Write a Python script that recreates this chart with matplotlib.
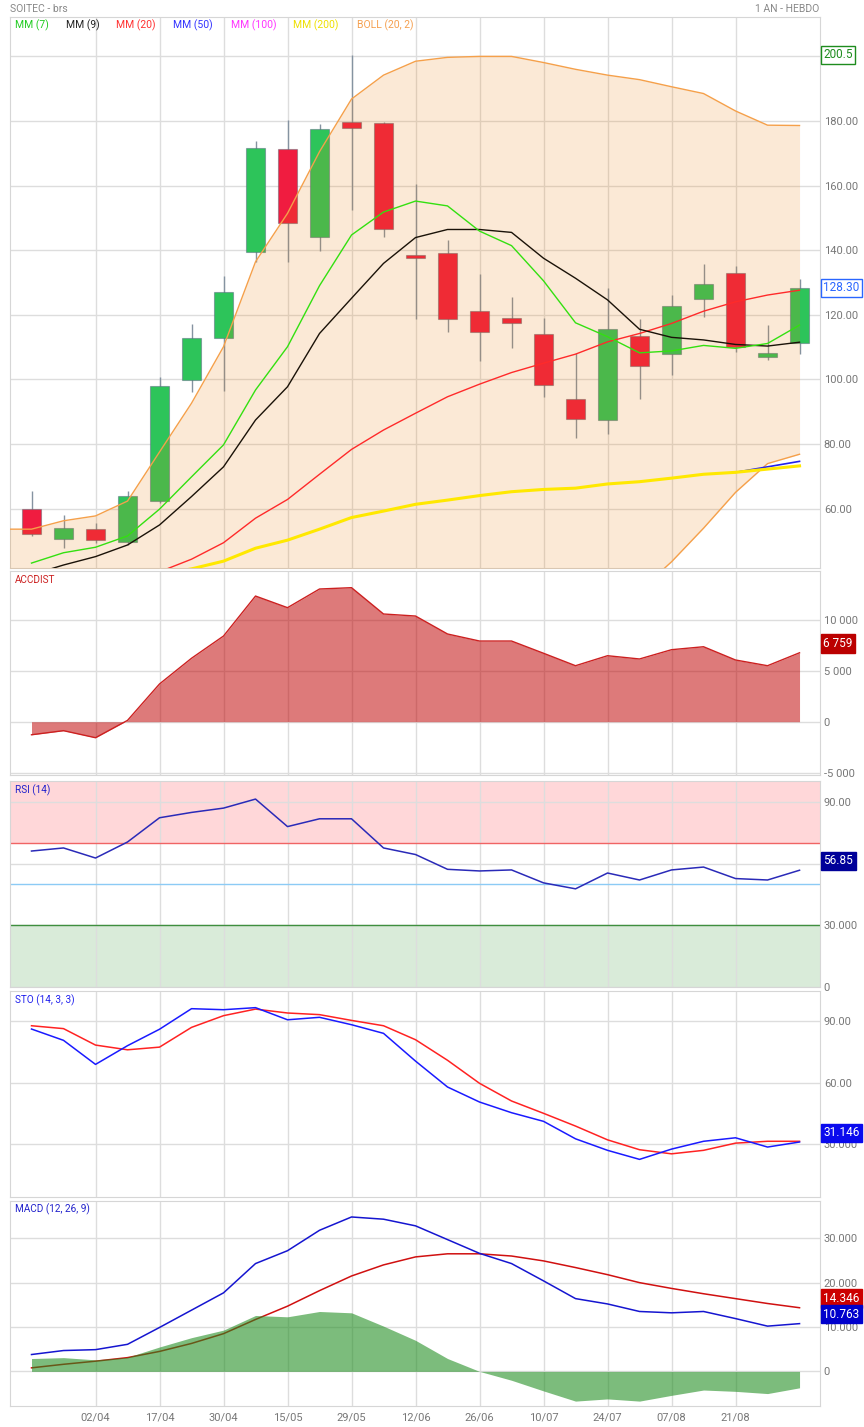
import numpy as np
import matplotlib
matplotlib.use('Agg')
import matplotlib.pyplot as plt

plt.rcParams['font.family'] = ['Roboto', 'DejaVu Sans']

W, H = 864, 1427

# ---------------- data ----------------
x_labels = ['02/04', '17/04', '30/04', '15/05', '29/05', '12/06', '26/06',
            '10/07', '24/07', '07/08', '21/08']
x_label_pos = list(range(2, 23, 2))

opens  = [60.0, 50.5, 53.6, 49.7, 62.2, 99.7, 112.9, 139.5, 171.2, 144.1, 179.6, 179.3, 138.4,
          139.0, 121.1, 118.9, 113.9, 93.8, 87.3, 113.3, 107.7, 124.8, 132.8, 107.0, 111.3]
closes = [52.0, 53.9, 50.2, 63.8, 97.9, 112.7, 126.9, 171.5, 148.3, 177.4, 177.7, 146.6, 137.5,
          118.6, 114.6, 117.3, 98.1, 87.6, 115.5, 104.0, 122.7, 129.4, 109.9, 108.0, 128.3]
highs  = [65.4, 58.0, 55.6, 65.4, 100.7, 117.1, 132.0, 173.8, 180.3, 179.0, 200.5, 179.6, 160.6,
          143.1, 132.6, 125.6, 118.9, 108.0, 128.4, 118.6, 126.1, 135.7, 135.1, 116.8, 131.0]
lows   = [51.5, 47.9, 49.2, 48.7, 61.8, 96.1, 96.5, 136.4, 136.4, 139.8, 152.4, 144.1, 118.7,
          114.7, 105.8, 109.8, 94.6, 81.9, 83.2, 93.8, 101.4, 119.2, 108.4, 106.0, 107.8]

mm7   = [43.1, 46.3, 48.0, 51.5, 59.8, 69.8, 79.7, 96.7, 110.1, 129.0, 144.7, 151.8, 155.2,
         153.7, 145.9, 141.4, 130.5, 117.5, 113.2, 108.2, 108.8, 110.5, 109.6, 111.1, 116.8]
mm9   = [39.5, 42.5, 45.1, 48.7, 54.9, 63.7, 72.9, 87.4, 97.7, 114.2, 125.1, 135.9, 143.9,
         146.4, 146.4, 145.5, 137.5, 131.3, 124.6, 115.5, 113.0, 112.2, 110.8, 110.3, 111.5]
mm20  = [38.5, 39.0, 39.4, 39.8, 40.4, 44.3, 49.4, 57.0, 62.8, 70.6, 78.3, 84.3, 89.5,
         94.6, 98.5, 102.1, 105.0, 107.8, 111.6, 114.2, 117.3, 121.1, 124.0, 126.1, 127.6]
mm50  = [np.nan] * 22 + [71.2, 72.9, 74.6]
mm200 = [36.0, 36.8, 37.6, 38.4, 39.6, 41.3, 43.7, 47.7, 50.2, 53.6, 57.2, 59.2, 61.3,
         62.6, 64.0, 65.2, 65.9, 66.3, 67.6, 68.3, 69.4, 70.6, 71.2, 72.2, 73.2]
# Bollinger bands, first value = previous week
boll_up  = [53.6, 53.6, 56.2, 57.7, 62.3, 77.5, 92.6, 110.1, 136.4, 151.4, 170.5, 186.8, 194.2,
            198.5, 199.7, 200.0, 200.0, 198.1, 196.0, 194.2, 192.8, 190.6, 188.5, 183.1, 178.7, 178.6]
boll_low = [40.0, 39.0, 37.5, 36.5, 34.0, 27.0, 19.0, 10.0, 0.0, -4.0, -8.0, -12.0, -14.0,
            -14.0, -12.0, -8.0, -4.0, 3.0, 10.0, 22.0, 34.5, 43.5, 53.9, 65.0, 73.9, 76.8]

accdist = [-1280, -880, -1570, 130, 3700, 6220, 8400, 12320, 11180, 13010, 13140, 10560, 10360,
           8600, 7910, 7910, 6710, 5490, 6470, 6150, 7060, 7350, 6050, 5490, 6759]

rsi = [66.2, 67.7, 62.8, 70.6, 82.4, 85.0, 87.1, 91.5, 78.1, 81.9, 81.9, 67.7, 64.5,
       57.3, 56.5, 57.0, 50.7, 47.8, 55.5, 52.1, 57.0, 58.4, 52.8, 52.1, 56.85]

sto_k = [86.1, 80.6, 68.9, 78.0, 86.0, 96.0, 95.5, 96.5, 90.6, 91.8, 88.2, 84.0, 70.5,
         57.9, 50.6, 45.4, 41.2, 32.7, 27.1, 22.7, 27.7, 31.5, 33.2, 28.7, 31.146]
sto_d = [87.7, 86.3, 78.3, 76.0, 77.3, 86.9, 92.6, 95.8, 93.9, 93.1, 90.3, 87.7, 80.9,
         70.9, 59.7, 51.1, 45.1, 38.9, 32.2, 27.4, 25.4, 27.1, 30.6, 31.5, 31.5]

macd   = [3.8, 4.7, 4.9, 6.1, 9.9, 13.8, 17.7, 24.3, 27.2, 31.8, 34.8, 34.3, 32.8,
          29.7, 26.6, 24.3, 20.4, 16.4, 15.2, 13.5, 13.2, 13.5, 11.9, 10.2, 10.763]
signal = [0.8, 1.6, 2.3, 3.1, 4.5, 6.3, 8.5, 11.7, 14.7, 18.2, 21.5, 24.0, 25.8,
          26.5, 26.5, 26.0, 24.9, 23.4, 21.8, 20.0, 18.7, 17.5, 16.4, 15.3, 14.346]
hist   = [2.9, 3.1, 2.6, 3.2, 5.5, 7.6, 9.3, 12.6, 12.3, 13.5, 13.2, 10.2, 7.0,
          2.9, 0.0, -2.0, -4.4, -6.7, -6.2, -6.7, -5.4, -4.2, -4.5, -5.0, -3.7]

# ---------------- figure ----------------
n = len(opens)
x = np.arange(n)
xb = np.arange(-1, n)

fig = plt.figure(figsize=(W / 100, H / 100), dpi=100)
GRID = '#DDDDDD'
TICKC = '#777777'


def axrect(top, bottom):
    return [10 / W, 1 - bottom / H, (819.7 - 10) / W, (bottom - top) / H]


def style(ax, ylim, yticks, ylabels):
    ax.set_xlim(-0.672, 24.63)
    ax.set_ylim(*ylim)
    ax.set_axisbelow(True)
    ax.set_xticks(x_label_pos)
    ax.set_yticks(yticks)
    ax.set_yticklabels(ylabels)
    ax.yaxis.tick_right()
    ax.tick_params(length=0, labelsize=8, labelcolor=TICKC, pad=3)
    ax.tick_params(axis='x', labelbottom=False)
    ax.grid(True, color=GRID, lw=1)
    for s in ax.spines.values():
        s.set_color('#D6D6D6')


def ftext(xp, yp, s, **kw):
    fig.text(xp / W, 1 - yp / H, s, **kw)


def vbox(ax, y, s, fc, tc, ec, va='center', dy=0.0):
    ax.annotate(s, xy=(1, y), xycoords=('axes fraction', 'data'), xytext=(2.6, dy),
                textcoords='offset points', ha='left', va=va, fontsize=8.5, color=tc,
                bbox=dict(boxstyle='square,pad=0.22', fc=fc, ec=ec, lw=1),
                annotation_clip=False, zorder=20)


# ---- main price panel ----
ax0 = fig.add_axes(axrect(17, 567.5))
style(ax0, (41.73, 212.2), [60, 80, 100, 120, 140, 160, 180, 200],
      ['60.00', '80.00', '100.00', '120.00', '140.00', '160.00', '180.00', ''])

o = np.array(opens); c = np.array(closes)
up = c >= o
green, red = '#2DC45A', '#F01C40'
ax0.vlines(x, lows, highs, color='#8593A1', lw=1, zorder=2)
ax0.bar(x[up], (c - o)[up], bottom=o[up], width=0.57, color=green,
        edgecolor=(0.35, 0.45, 0.5, 0.55), lw=0.8, zorder=2.5)
ax0.bar(x[~up], (o - c)[~up], bottom=c[~up], width=0.57, color=red,
        edgecolor=(0.45, 0.4, 0.45, 0.55), lw=0.8, zorder=2.5)

ax0.fill_between(xb, boll_low, boll_up, color=(236 / 255, 122 / 255, 0), alpha=0.16, lw=0, zorder=3)
ax0.plot(xb, boll_up, color='#F5A04A', lw=1, zorder=4)
ax0.plot(xb, boll_low, color='#F5A04A', lw=1, zorder=4)
ax0.plot(x, mm50, color='#2222EE', lw=1.2, zorder=4)
ax0.plot(x, mm200, color='#FFE800', lw=2.2, zorder=4.2)
ax0.plot(x, mm20, color='#FF2A2A', lw=1, zorder=4.3)
ax0.plot(x, mm9, color='#1A1208', lw=1, zorder=4.4)
ax0.plot(x, mm7, color='#33E010', lw=1, zorder=4.5)

vbox(ax0, highs[10], f'{highs[10]:.1f}', 'white', '#1E8C1E', '#1E8C1E')
vbox(ax0, closes[-1], f'{closes[-1]:.2f}', 'white', '#2A66FF', '#2A66FF')

legend = [('MM (7)', '#22CC22', 15), ('MM (9)', '#222222', 66), ('MM (20)', '#FF3030', 116),
          ('MM (50)', '#3333FF', 173), ('MM (100)', '#FF33FF', 231), ('MM (200)', '#EEE000', 293),
          ('BOLL (20, 2)', '#F5A050', 357)]
for s, col, xp in legend:
    ftext(xp, 25, s, color=col, fontsize=7.5, ha='left', va='center')

ftext(10, 9, 'SOITEC - brs', color='#888888', fontsize=7.5, ha='left', va='center')
ftext(819, 9, '1 AN - HEBDO', color='#888888', fontsize=7.5, ha='right', va='center')

# ---- ACCDIST ----
ax1 = fig.add_axes(axrect(571, 775))
style(ax1, (-5225, 14775), [-5000, 0, 5000, 10000], ['-5 000', '0', '5 000', '10 000'])
ax1.fill_between(x, 0, accdist, color='#BE0000', alpha=0.52, lw=0, zorder=2)
ax1.plot(x, accdist, color='#CC2020', lw=1, zorder=3)
vbox(ax1, accdist[-1], '6 759', '#BB0000', 'white', '#BB0000', va='bottom', dy=2)
ftext(15, 580, 'ACCDIST', color='#CC2222', fontsize=7.2, ha='left', va='center')

# ---- RSI ----
ax2 = fig.add_axes(axrect(781, 987))
style(ax2, (0, 100.3), [0, 30, 60, 90], ['0', '30.000', '', '90.00'])
ax2.axhspan(70, 100.3, color='#FFD7D9', lw=0, zorder=0.1)
ax2.axhspan(0, 30, color='#D9EBD9', lw=0, zorder=0.1)
ax2.axhline(70, color='#F06464', lw=1, zorder=1)
ax2.axhline(50, color='#8CCBF5', lw=1, zorder=1)
ax2.axhline(30, color='#3F8F3F', lw=1, zorder=1)
ax2.plot(x, rsi, color='#2A2AB8', lw=1.1, zorder=3)
vbox(ax2, rsi[-1], f'{rsi[-1]:.2f}', '#000099', 'white', '#000099', va='bottom', dy=2)
ftext(15, 790.5, 'RSI (14)', color='#2222CC', fontsize=7.2, ha='left', va='center')

# ---- STO ----
ax3 = fig.add_axes(axrect(991, 1197))
style(ax3, (4.4, 104.6), [30, 60, 90], ['30.000', '60.00', '90.00'])
ax3.plot(x, sto_d, color='#FF2222', lw=1.1, zorder=3)
ax3.plot(x, sto_k, color='#1A1AFF', lw=1.1, zorder=3.2)
vbox(ax3, sto_k[-1], f'{sto_k[-1]:.3f}', '#0A0AEE', 'white', '#0A0AEE', va='bottom', dy=2)
ftext(15, 1000.5, 'STO (14, 3, 3)', color='#2222EE', fontsize=7.2, ha='left', va='center')

# ---- MACD ----
ax4 = fig.add_axes(axrect(1201, 1406))
style(ax4, (-7.8, 38.4), [0, 10, 20, 30], ['0', '10.000', '20.000', '30.000'])
ax4.plot(x, signal, color='#D01010', lw=1.1, zorder=2)
ax4.fill_between(x, 0, hist, color='#1E8C1E', alpha=0.58, lw=0, zorder=2.5)
ax4.plot(x, macd, color='#1515D0', lw=1.1, zorder=3)
vbox(ax4, signal[-1], f'{signal[-1]:.3f}', '#CC0000', 'white', '#CC0000', va='bottom', dy=2)
vbox(ax4, macd[-1], f'{macd[-1]:.3f}', '#0000CC', 'white', '#0000CC', va='bottom', dy=2)
ftext(15, 1209.5, 'MACD (12, 26, 9)', color='#2222CC', fontsize=7.2, ha='left', va='center')
ax4.set_xticklabels(x_labels)
ax4.tick_params(axis='x', labelbottom=True, labelsize=8, labelcolor=TICKC, pad=5)

fig.savefig('out.png', dpi=100)
